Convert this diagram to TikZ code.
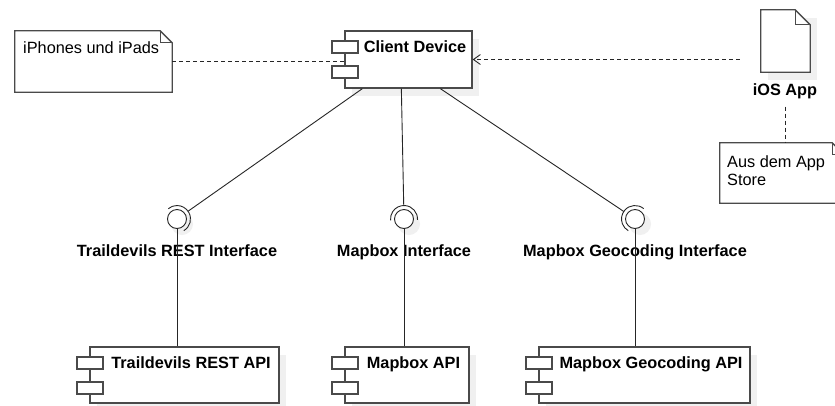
\documentclass[tikz,border=0pt]{standalone}
\usepackage{fontspec}
\setmainfont{Liberation Sans}
\usetikzlibrary{calc,arrows.meta,fit}
\definecolor{edgec}{HTML}{4A4A4A}
\definecolor{shadowgrey}{HTML}{F0F0F0}
\tikzset{
  boxline/.style={draw=edgec, line width=1.3pt},
  mainbox/.style={boxline, fill=white, rectangle, inner sep=0pt},
  port/.style={boxline, fill=white, rectangle, minimum width=26pt, minimum height=12pt, inner sep=0pt},
  lbl/.style={font=\fontsize{16.3}{18}\selectfont\bfseries, inner sep=0pt, text=black},
  txt/.style={font=\fontsize{16.3}{18}\selectfont, inner sep=0pt, text=black},
  conn/.style={draw=black!85, line width=0.9pt},
  dep/.style={conn, dash pattern=on 4pt off 3pt},
  ball/.style={circle, draw=black!85, line width=0.9pt, fill=white, minimum size=19pt, inner sep=0pt},
  dropshadow/.style={fill=shadowgrey, draw=none},
}
\newcommand{\umlcomp}[6]{%
  \path[dropshadow] (#2+7,#3+8) rectangle (#4+7,#5+8);
  \node[mainbox, fit={(#2,#3) (#4,#5)}] (#1) {};
  \node[port] (#1-pa) at (#2,#3+16) {};
  \node[port] (#1-pb) at (#2,#3+41) {};
  \node[lbl, anchor=base] (#1-t) at ({(#2+13+#4)/2},#3+21) {#6};
}
\newcommand{\lolli}[4]{%
  \path[dropshadow] (#2+5,#3+5) circle[radius=11];
  \node[ball] (#1) at (#2,#3) {};
  \draw[conn] ($(#1.center)+(#4-95:13.5pt)$) arc[start angle=#4-95, end angle=#4+95, radius=13.5pt];
}
\begin{document}
\begin{tikzpicture}[x=1pt,y=-1pt]
\useasboundingbox (0,0) rectangle (835,405);
\fill[white] (0,0) rectangle (835,405);

% components
\umlcomp{client}{345}{31}{472}{88}{Client Device}
\umlcomp{tdapi}{90}{347}{279}{403}{Traildevils REST API}
\umlcomp{mbapi}{345}{347}{469}{403}{Mapbox API}
\umlcomp{geoapi}{539}{347}{750}{403}{Mapbox Geocoding API}

% note iPhones
\node[fit={(15,31) (172,92)}, inner sep=0pt] (n1) {};
\draw[boxline, fill=white] (n1.north west) -- ($(n1.north east)+(-12,0)$) -- ($(n1.north east)+(0,12)$) -- (n1.south east) -- (n1.south west) -- cycle;
\draw[boxline] ($(n1.north east)+(-12,0)$) -- ($(n1.north east)+(-12,12)$) -- ($(n1.north east)+(0,12)$);
\node[txt, anchor=base west] (n1t) at (23,53) {iPhones und iPads};

% iOS App artifact
\path[dropshadow] (768,18) rectangle (817,80);
\node[fit={(761,10) (810,72)}, inner sep=0pt] (ios) {};
\draw[boxline, fill=white] (ios.north west) -- ($(ios.north east)+(-15,0)$) -- ($(ios.north east)+(0,15)$) -- (ios.south east) -- (ios.south west) -- cycle;
\draw[boxline] ($(ios.north east)+(-15,0)$) -- ($(ios.north east)+(-15,15)$) -- ($(ios.north east)+(0,15)$);
\node[lbl, anchor=base] (ioslbl) at (785,95) {iOS App};

% note App Store
\node[fit={(720,143) (844,203)}, inner sep=0pt] (n2) {};
\draw[boxline, fill=white] (n2.north west) -- ($(n2.north east)+(-12,0)$) -- ($(n2.north east)+(0,12)$) -- (n2.south east) -- (n2.south west) -- cycle;
\draw[boxline] ($(n2.north east)+(-12,0)$) -- ($(n2.north east)+(-12,12)$) -- ($(n2.north east)+(0,12)$);
\node[txt, anchor=base west, align=left] (n2t) at (727,185) {Aus dem App\\Store};

% dependencies
\draw[dep] (n1.east) -- (n1.east -| client.west);
\draw[dep, -{Straight Barb[length=7pt,width=10pt,line width=0.9pt]}, shorten <=21pt] (client.east -| ios.west) -- (client.east);
\draw[dep, shorten <=8pt] (ioslbl.south) -- (ioslbl.south |- n2.north);

% interfaces
\coordinate (cpl) at ($(client.south west)+(18,0)$);
\coordinate (cpm) at ($(client.south west)+(57,0)$);
\coordinate (cpr) at ($(client.south west)+(96,0)$);

\lolli{lolL}{177}{219}{35.2}
\lolli{lolM}{404}{219}{90.9}
\lolli{lolR}{635}{219}{145.1}

\draw[conn] (cpl) -- ($(lolL)!13.5pt!(cpl)$);
\draw[conn] (cpm) -- ($(lolM)!13.5pt!(cpm)$);
\draw[conn] (cpr) -- ($(lolR)!13.5pt!(cpr)$);

\node[lbl, anchor=base] (lblL) at (177,256) {Traildevils REST Interface};
\node[lbl, anchor=base] (lblM) at (404,256) {Mapbox Interface};
\node[lbl, anchor=base] (lblR) at (635,256) {Mapbox Geocoding Interface};

\draw[conn] (lolL.south) -- (lolL.south |- tdapi.north);
\draw[conn] (lolM.south) -- (lolM.south |- mbapi.north);
\draw[conn] (lolR.south) -- (lolR.south |- geoapi.north);
\end{tikzpicture}
\end{document}
